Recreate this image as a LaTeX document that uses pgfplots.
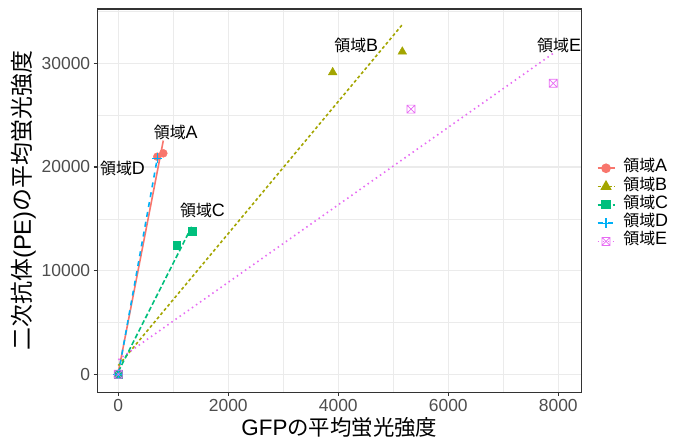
\documentclass[border=0pt]{standalone}
\usepackage{fontspec}
\setmainfont{Liberation Sans}
\newfontfamily\cjk{Noto Sans CJK JP}
\usepackage{pgfplots}
\pgfplotsset{compat=1.18}
\definecolor{cA}{HTML}{F8766D}
\definecolor{cB}{HTML}{A3A500}
\definecolor{cC}{HTML}{00BF7D}
\definecolor{cD}{HTML}{00B0F6}
\definecolor{cE}{HTML}{E76BF3}
\definecolor{gridc}{HTML}{EBEBEB}
\definecolor{bord}{HTML}{333333}
\definecolor{tickc}{HTML}{4D4D4D}
\newcommand\J[2]{{\fontsize{#1}{#1}\cjk #2}}
\pgfdeclareplotmark{boxx}{%
 \pgfpathrectangle{\pgfpoint{-\pgfplotmarksize}{-\pgfplotmarksize}}{\pgfpoint{2\pgfplotmarksize}{2\pgfplotmarksize}}%
 \pgfpathmoveto{\pgfpoint{-\pgfplotmarksize}{-\pgfplotmarksize}}\pgfpathlineto{\pgfpoint{\pgfplotmarksize}{\pgfplotmarksize}}%
 \pgfpathmoveto{\pgfpoint{-\pgfplotmarksize}{\pgfplotmarksize}}\pgfpathlineto{\pgfpoint{\pgfplotmarksize}{-\pgfplotmarksize}}%
 \pgfusepathqstroke}
\begin{document}
\begin{tikzpicture}
\useasboundingbox (-97.3bp,-49.7bp) rectangle (585.7bp,392.3bp);
\begin{axis}[
 scale only axis, width=484.2bp, height=383.3bp,
 xmin=-382, xmax=8422, ymin=-1736, ymax=35238,
 xtick={0,2000,4000,6000,8000}, ytick={0,10000,20000,30000},
 minor xtick={1000,3000,5000,7000}, minor ytick={5000,15000,25000,35000},
 xtick pos=bottom, ytick pos=left,
 grid=both,
 major grid style={gridc, line width=1.07bp},
 minor grid style={gridc, line width=0.53bp},
 axis line style={bord, line width=1.07bp},
 tick align=outside, major tick length=3.6bp, minor tick length=0pt,
 tick style={bord, line width=1.07bp},
 scaled ticks=false,
 /pgf/number format/1000 sep={},
 /pgf/number format/assume math mode=true,
 tick label style={font=\fontsize{17.5}{17.5}\selectfont, text=tickc},
 xlabel={GFP\J{21.5}{の平均蛍光強度}},
 ylabel={\fontsize{24}{24}\selectfont\J{23}{二次抗体}(PE)\J{23}{の平均蛍光強度}},
 label style={font=\fontsize{22.5}{22.5}\selectfont},
 xlabel style={at={(axis description cs:0.5,-0.093)}, anchor=center},
 ylabel style={at={(axis description cs:-0.152,0.5)}, anchor=center},
 clip=false,
 legend cell align=left,
 legend style={draw=none, fill=none, at={(axis description cs:1.031,0.489)}, anchor=west,
   inner sep=0pt, row sep=1.3bp, font=\fontsize{18}{18}\selectfont,
   nodes={inner sep=0pt, text height=12bp, text depth=5bp},
   /tikz/every odd column/.append style={column sep=8bp}},
]
% points
\addplot[only marks, mark=*, cA, mark size=4bp, forget plot] coordinates {(0,0) (709,20990) (818,21318)};
\addplot[only marks, mark=triangle*, cB, mark size=5bp, forget plot] coordinates {(0,0) (3898,29131) (5164,31118)};
\addplot[only marks, mark=square*, cC, mark size=3.8bp, forget plot] coordinates {(0,0) (1062,12473) (1345,13823)};
\addplot[only marks, mark=+, cD, mark size=5bp, line width=1.1bp, forget plot] coordinates {(0,0) (709,20835)};
\addplot[only marks, mark=boxx, cE, mark size=4bp, line width=0.7bp, forget plot] coordinates {(0,0) (5322,25581) (7909,28070)};
% fitted lines
\addplot[cA, line width=1.6bp, forget plot] coordinates {(0,190) (818,22546)};
\addplot[cB, line width=1.6bp, dash pattern=on 3bp off 2.5bp, forget plot] coordinates {(0,845) (5164,33730)};
\addplot[cC, line width=1.6bp, dash pattern=on 5bp off 2.5bp, forget plot] coordinates {(0,250) (1345,14350)};
\addplot[cD, line width=1.6bp, dash pattern=on 5bp off 5bp, forget plot] coordinates {(0,0) (709,20835)};
\addplot[cE, line width=1.6bp, dash pattern=on 1.5bp off 3.5bp, forget plot] coordinates {(0,1404) (7909,30960)};
% legend
\addlegendimage{cA, line width=1.6bp, mark=*, mark size=4bp}
\addlegendentry{\J{16}{領域}A}
\addlegendimage{cB, line width=1.6bp, dash pattern=on 3bp off 2.5bp, mark=triangle*, mark size=5bp, mark options={solid}}
\addlegendentry{\J{16}{領域}B}
\addlegendimage{cC, line width=1.6bp, dash pattern=on 5bp off 2.5bp, mark=square*, mark size=3.8bp, mark options={solid}}
\addlegendentry{\J{16}{領域}C}
\addlegendimage{cD, line width=1.6bp, dash pattern=on 5bp off 5bp, mark=+, mark size=5bp, mark options={solid, line width=1.1bp}}
\addlegendentry{\J{16}{領域}D}
\addlegendimage{cE, line width=1.6bp, dash pattern=on 1.5bp off 3.5bp, mark=boxx, mark size=4bp, mark options={solid, line width=0.7bp}}
\addlegendentry{\J{16}{領域}E}
% labels
\node[font=\fontsize{18}{18}\selectfont] at (axis cs:1045,23324) {\J{16}{領域}A};
\node[font=\fontsize{18}{18}\selectfont] at (axis cs:4327,31687) {\J{16}{領域}B};
\node[font=\fontsize{18}{18}\selectfont] at (axis cs:1531,15848) {\J{16}{領域}C};
\node[font=\fontsize{18}{18}\selectfont] at (axis cs:76,19871) {\J{16}{領域}D};
\node[font=\fontsize{18}{18}\selectfont] at (axis cs:8016,31687) {\J{16}{領域}E};
\end{axis}
\end{tikzpicture}
\end{document}
